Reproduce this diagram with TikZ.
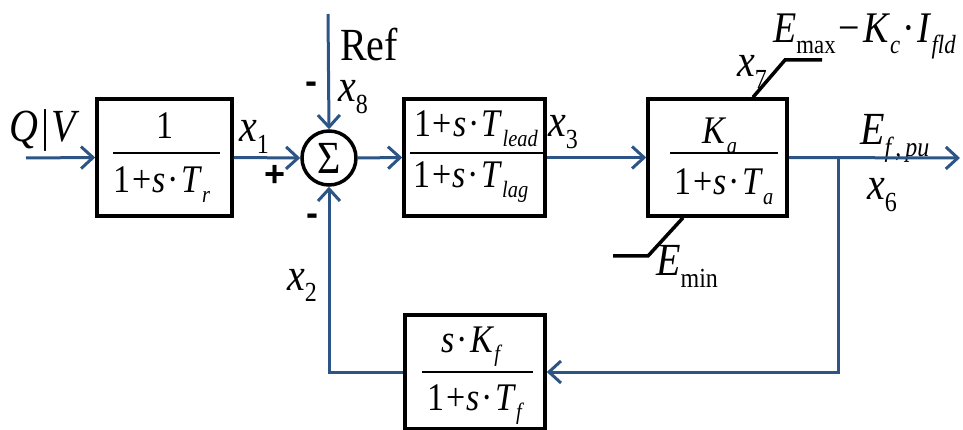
\documentclass[tikz,border=0pt]{standalone}
\usepackage{fontspec}
\setmainfont{Liberation Serif}
\newfontfamily\sansb{Liberation Sans}
\usepackage{graphicx}
\usetikzlibrary{arrows.meta}
\definecolor{fb}{RGB}{44,84,132}
\newcommand\sbx[1]{\raisebox{-0.25em}{\scalebox{0.6}{#1}}}
\newcommand\mdot{\kern0.06em·\kern0.06em}
\newcommand\pls{\kern0.04em+\kern0.04em}
\newcommand\sy[1]{\scalebox{1}[1.15]{#1}}
\begin{document}
\begin{tikzpicture}[x=1pt,y=1pt,
  blk/.style={draw=black, line width=3.5pt, inner sep=0pt},
  wire/.style={draw=fb, line width=3pt},
  arr/.style={wire, -{Straight Barb[length=12pt,width=22pt]}},
  sat/.style={draw=black, line width=3.5pt, line join=miter},
  txt/.style={inner sep=0pt, font=\fontsize{40}{44}\selectfont},
  bx/.style={inner sep=0pt, anchor=base, font=\fontsize{34}{40}\selectfont},
  lb/.style={txt, anchor=base west},
  sg/.style={inner sep=0pt, font=\sansb\bfseries\fontsize{36}{40}\selectfont},
  fracbar/.style={draw=black, line width=2.5pt}]
\useasboundingbox (0,0) rectangle (963,-430);

% blocks
\node[blk, minimum width=135pt, minimum height=117pt] (b1) at (164.5,-157.5) {};
\node[blk, minimum width=141pt, minimum height=117pt] (b2) at (474.5,-157.5) {};
\node[blk, minimum width=139pt, minimum height=117pt] (b3) at (717.5,-157.5) {};
\node[blk, minimum width=140pt, minimum height=114pt] (bf) at (475,-372) {};
\node[blk, circle, minimum size=54pt] (sum) at (329,-158) {};
\node[inner sep=0pt, font=\fontsize{40}{44}\selectfont] (sigma) at (329,-158) {\sy{Σ}};

% block contents
\node[bx] (n1) at (164.5,-139) {\sy{1}};
\draw[fracbar] (113,-153) -- (220,-153);
\node[bx] (d1) at (162,-193) {\sy{1\pls\textit{s}\mdot\textit{T}\sbx{\textit{r}}}};

\node[bx] (n2) at (476,-137) {\sy{1\pls\textit{s}\mdot\textit{T}\sbx{\textit{lead}}}};
\draw[fracbar] (410,-153) -- (543,-153);
\node[bx] (d2) at (471,-188) {\sy{1\pls\textit{s}\mdot\textit{T}\sbx{\textit{lag}}}};

\node[bx] (n3) at (720,-144) {\sy{\textit{K}\sbx{\textit{a}}}};
\draw[fracbar] (670,-153) -- (778,-153);
\node[bx] (d3) at (724,-195) {\sy{1\pls\textit{s}\mdot\textit{T}\sbx{\textit{a}}}};

\node[bx] (nf) at (472,-352) {\sy{\textit{s}\mdot\textit{K}\sbx{\textit{f}}}};
\draw[fracbar] (422,-372) -- (533,-372);
\node[bx] (df) at (476,-410) {\sy{1\pls\textit{s}\mdot\textit{T}\sbx{\textit{f}}}};

% labels
\node[lb] (lq) at (9,-142) {\sy{\textit{Q}\kern0.08em|\kern0.06em\textit{V}}};
\node[lb] (lx1) at (239,-142) {\sy{\textit{x}\sbx{1}}};
\node[lb] (lx8) at (338,-102) {\sy{\textit{x}\sbx{8}}};
\node[lb] (lref) at (340,-61) {\sy{Ref}};
\node[lb] (lx2) at (287,-290) {\sy{\textit{x}\sbx{2}}};
\node[lb] (lx3) at (548,-137) {\sy{\textit{x}\sbx{3}}};
\node[lb] (lx7) at (737,-77) {\sy{\textit{x}\sbx{7}}};
\node[lb, font=\fontsize{38}{42}\selectfont] (lemax) at (773,-43) {\sy{\textit{E}\sbx{max}\kern0.08em−\kern0.08em\textit{K}\sbx{\textit{c}}\mdot\textit{I}\sbx{\textit{fld}}}};
\node[lb] (lef) at (860,-145) {\sy{\textit{E}\sbx{\textit{f\,,\,pu}}}};
\node[lb] (lx6) at (867,-200) {\sy{\textit{x}\sbx{6}}};
\node[lb] (lemin) at (656,-276) {\sy{\textit{E}\sbx{min}}};
\node[sg] (plus) at (275,-176) {+};
\node[sg] (m1) at (311,-88) {-};
\node[sg] (m2) at (312,-220) {-};

% limiter lines
\draw[sat] ([xshift=35.5pt]b3.north) -- (785,-60) -- (822,-60);
\draw[sat] ([xshift=-34.5pt]b3.south) -- (648,-256) -- (613,-256);

% connectors
\coordinate (in) at (26,-158);
\coordinate (ref) at (328,-14);
\coordinate (out) at (960,-158);
\coordinate (j) at (838,-158);
\draw[arr] (in) -- (b1.west);
\draw[arr] (b1.east) -- (sum.west);
\draw[arr] (ref) -- (sum.north);
\draw[arr] (sum.east) -- (b2.west);
\draw[arr] (b2.east) -- (b3.west);
\draw[arr] (b3.east) -- (out);
\draw[arr] (j) |- (bf.east);
\draw[arr] (bf.west) -| (sum.south);
\end{tikzpicture}
\end{document}
